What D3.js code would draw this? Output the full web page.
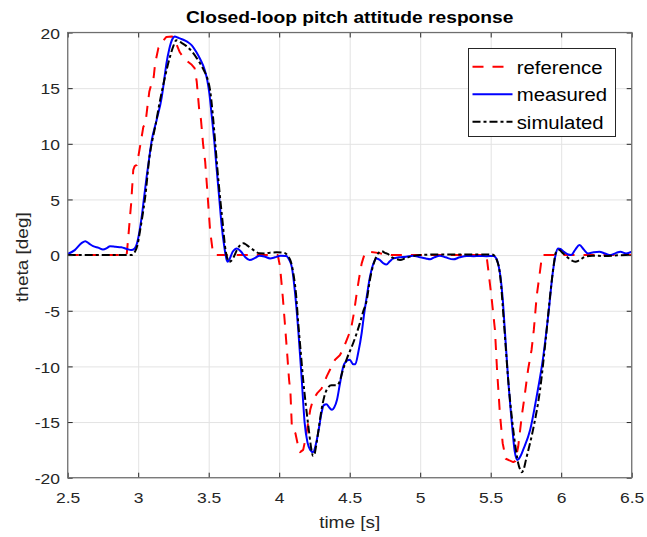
<!DOCTYPE html>
<html>
<head>
<meta charset="utf-8">
<script src="https://cdn.jsdelivr.net/npm/d3@7"></script>
<style>
  html, body { margin: 0; padding: 0; background: #fff; }
  svg { display: block; font-family: "Liberation Sans", Arial, Helvetica, sans-serif; }
</style>
</head>
<body>
<svg id="chart" width="647" height="537"></svg>
<script>
// Axis ticks
const xTicks = [2.5, 3, 3.5, 4, 4.5, 5, 5.5, 6, 6.5];
const yTicks = [-20, -15, -10, -5, 0, 5, 10, 15, 20];

// Legend entries
const seriesNames = ["reference", "measured", "simulated"];

// Commanded pitch attitude [time s, theta deg]
const reference = [
  [2.50, 0], [2.918, 0], [2.93, 1.65], [2.95, 4.65], [2.965, 7.65], [2.975, 8.0], [2.99, 8.1],
  [3.00, 8.8], [3.013, 9.74], [3.036, 11.5], [3.045, 11.7], [3.055, 12.2], [3.065, 13.3],
  [3.079, 14.7], [3.09, 15.2], [3.10, 15.3], [3.11, 16.0], [3.12, 17.2], [3.143, 18.6],
  [3.167, 19.0], [3.18, 19.3], [3.20, 19.6], [3.238, 19.65], [3.255, 19.5], [3.27, 19.0],
  [3.296, 18.2], [3.33, 17.6], [3.38, 17.1], [3.40, 16.8], [3.415, 15.6], [3.433, 13.0],
  [3.445, 12.2], [3.46, 10.0], [3.475, 8.4], [3.486, 6.5], [3.51, 2.2], [3.528, 0.4],
  [3.545, 0], [3.99, 0], [4.006, -1.04], [4.025, -3.7], [4.04, -6.1], [4.058, -9.1],
  [4.07, -11.2], [4.08, -12.4], [4.09, -15.5], [4.10, -15.7], [4.115, -16.0], [4.135, -17.2],
  [4.148, -17.7], [4.17, -17.5], [4.19, -16.3], [4.22, -13.9], [4.24, -13.0], [4.27, -12.4],
  [4.30, -12.0], [4.337, -10.9], [4.36, -10.3], [4.396, -9.4], [4.43, -9.0], [4.455, -8.4],
  [4.48, -7.6], [4.51, -6.6], [4.53, -5.2], [4.55, -3.4], [4.565, -2.2], [4.585, -0.74],
  [4.607, 0.16], [4.64, 0.3], [4.70, 0.2], [4.75, 0.05], [4.80, 0], [5.47, 0],
  [5.48, -1.04], [5.505, -3.7], [5.53, -6.7], [5.545, -10.3], [5.565, -14.2], [5.585, -16.9],
  [5.607, -18.3], [5.66, -18.6], [5.675, -18.5], [5.695, -17.2], [5.72, -14.5], [5.74, -12.7],
  [5.765, -10.3], [5.79, -8.5], [5.806, -6.7], [5.826, -3.7], [5.845, -1.9], [5.86, -0.44],
  [5.865, 0], [6.50, 0]
];

// Flight-test measurement [time s, theta deg]
const measured = [
  [2.50, 0.1], [2.55, 0.45], [2.60, 1.1], [2.625, 1.25], [2.65, 1.05], [2.68, 0.8], [2.72, 0.65],
  [2.75, 0.5], [2.78, 0.65], [2.80, 0.8], [2.84, 0.75], [2.88, 0.7], [2.92, 0.55], [2.95, 0.45],
  [2.975, 0.6], [2.99, 1.0], [3.01, 2.2], [3.025, 3.45], [3.04, 5.0], [3.06, 7.05], [3.08, 8.9],
  [3.096, 10.3], [3.13, 12.1], [3.167, 14.2], [3.185, 15.8], [3.20, 17.2], [3.22, 18.5],
  [3.24, 19.35], [3.26, 19.65], [3.28, 19.55], [3.30, 19.45], [3.32, 19.35], [3.35, 19.15],
  [3.38, 18.85], [3.41, 18.3], [3.44, 17.6], [3.47, 16.7], [3.49, 15.7], [3.505, 14.5],
  [3.52, 12.7], [3.54, 10.2], [3.557, 7.65], [3.575, 5.1], [3.59, 2.9], [3.61, 0.8],
  [3.628, -0.45], [3.635, -0.6], [3.65, -0.3], [3.67, 0.3], [3.70, 0.6], [3.73, 0.3],
  [3.76, -0.2], [3.79, -0.45], [3.83, -0.25], [3.86, -0.05], [3.90, -0.15], [3.935, -0.3],
  [3.97, -0.2], [4.01, -0.05], [4.05, -0.08], [4.07, -0.4], [4.09, -1.1], [4.11, -3.1],
  [4.135, -6.7], [4.16, -11.2], [4.18, -15.0], [4.20, -16.8], [4.22, -17.5], [4.24, -17.7],
  [4.26, -17.0], [4.28, -15.7], [4.30, -14.2], [4.315, -13.5], [4.335, -13.4], [4.355, -13.7],
  [4.375, -13.9], [4.39, -13.7], [4.41, -13.0], [4.43, -11.6], [4.455, -10.0], [4.48, -9.5],
  [4.50, -9.4], [4.525, -9.8], [4.54, -9.8], [4.56, -8.8], [4.585, -7.0], [4.60, -5.5],
  [4.62, -3.8], [4.64, -2.2], [4.667, -0.8], [4.69, -0.3], [4.71, -0.4], [4.74, -0.75],
  [4.76, -0.85], [4.785, -0.55], [4.81, -0.3], [4.85, -0.2], [4.90, -0.15], [4.95, -0.05],
  [5.00, -0.2], [5.04, -0.3], [5.07, -0.38], [5.10, -0.2], [5.14, -0.05], [5.18, -0.2],
  [5.235, -0.38], [5.28, -0.2], [5.33, -0.08], [5.38, -0.1], [5.42, -0.08], [5.47, -0.1],
  [5.52, -0.08], [5.54, -0.3], [5.555, -0.9], [5.57, -2.0], [5.585, -3.9], [5.60, -6.7],
  [5.624, -11.2], [5.65, -15.1], [5.67, -17.6], [5.69, -18.4], [5.71, -18.1], [5.73, -17.5],
  [5.78, -15.7], [5.826, -12.7], [5.873, -9.1], [5.91, -5.2], [5.94, -1.6], [5.96, 0.0],
  [5.977, 0.6], [5.995, 0.55], [6.02, 0.3], [6.05, 0.05], [6.07, 0.0], [6.10, 0.5],
  [6.13, 0.9], [6.16, 0.5], [6.19, 0.15], [6.23, 0.25], [6.27, 0.3], [6.31, 0.15],
  [6.35, 0.0], [6.39, 0.2], [6.42, 0.3], [6.46, 0.15], [6.50, 0.3]
];

// Model simulation [time s, theta deg]
const simulated = [
  [2.50, 0], [2.95, 0], [2.977, 0.3], [2.995, 0.9], [3.01, 1.96], [3.03, 3.5], [3.05, 5.25],
  [3.08, 8.84], [3.10, 10.3], [3.12, 11.5], [3.155, 13.9], [3.19, 16.0], [3.225, 17.8],
  [3.25, 18.8], [3.27, 19.3], [3.29, 19.2], [3.31, 19.05], [3.34, 18.8], [3.38, 18.3],
  [3.415, 17.7], [3.445, 17.1], [3.47, 16.5], [3.49, 15.9], [3.51, 14.8], [3.53, 12.5],
  [3.545, 10.3], [3.56, 8.0], [3.58, 5.25], [3.60, 2.8], [3.616, 0.76], [3.63, -0.2],
  [3.645, -0.6], [3.66, -0.5], [3.68, -0.1], [3.70, 0.46], [3.72, 0.85], [3.745, 1.06],
  [3.77, 0.9], [3.80, 0.61], [3.83, 0.35], [3.86, 0.16], [3.90, 0.15], [3.935, 0.22],
  [3.98, 0.25], [4.03, 0.22], [4.05, 0.1], [4.065, -0.14], [4.08, -0.5], [4.10, -1.6],
  [4.12, -3.6], [4.135, -6.1], [4.15, -8.3], [4.17, -11.2], [4.19, -13.6], [4.21, -15.7],
  [4.225, -17.2], [4.24, -18.05], [4.25, -17.9], [4.265, -16.9], [4.28, -15.6], [4.30, -13.9],
  [4.32, -12.7], [4.337, -12.1], [4.37, -11.7], [4.41, -11.7], [4.43, -11.3], [4.45, -10.4],
  [4.48, -9.3], [4.525, -7.9], [4.55, -7.0], [4.57, -6.2], [4.595, -5.1], [4.62, -4.1],
  [4.645, -2.1], [4.667, -0.9], [4.68, -0.4], [4.705, 0.2], [4.727, 0.35], [4.75, 0.2],
  [4.77, 0.1], [4.80, -0.2], [4.83, -0.35], [4.857, -0.44], [4.90, -0.25], [4.95, -0.08],
  [5.00, 0.0], [5.10, 0.05], [5.20, 0.05], [5.30, 0.05], [5.40, 0.05], [5.507, 0.05],
  [5.53, -0.1], [5.545, -0.5], [5.56, -1.2], [5.57, -2.2], [5.594, -6.1], [5.624, -11.2],
  [5.66, -15.7], [5.68, -17.6], [5.695, -18.7], [5.71, -19.3], [5.72, -19.5], [5.735, -19.2],
  [5.75, -18.4], [5.80, -15.7], [5.85, -12.1], [5.89, -7.6], [5.926, -3.1], [5.95, -0.6],
  [5.96, 0.16], [5.985, 0.46], [6.01, 0.2], [6.04, -0.14], [6.07, -0.45], [6.10, -0.59],
  [6.13, -0.45], [6.17, -0.14], [6.22, -0.05], [6.31, -0.08], [6.40, -0.02], [6.50, 0]
];

const titleText = "Closed-loop pitch attitude response";
const xLabelText = "time [s]";
const yLabelText = "theta [deg]";

// ---------------------------------------------------------------
const svg = d3.select("#chart");
const W = 647, H = 537;
const plot = { left: 67.7, right: 631.7, top: 32.5, bottom: 477.7 };
const SX = 1.13;                       // horizontal widening of all lettering
const axisColor = "#262626";
const plainNumber = d => String(d);    // keeps an ASCII hyphen for negatives

svg.append("rect").attr("width", W).attr("height", H).attr("fill", "#fff");

const x = d3.scaleLinear().domain([2.5, 6.5]).range([plot.left, plot.right]);
const y = d3.scaleLinear().domain([-20, 20]).range([plot.bottom, plot.top]);

// grid
const grid = svg.append("g").attr("class", "grid");
grid.append("g")
  .attr("transform", `translate(0,${plot.bottom})`)
  .call(d3.axisBottom(x).tickValues(xTicks).tickSize(-(plot.bottom - plot.top)).tickFormat(""))
  .call(g => g.select(".domain").remove());
grid.append("g")
  .attr("transform", `translate(${plot.left},0)`)
  .call(d3.axisLeft(y).tickValues(yTicks).tickSize(-(plot.right - plot.left)).tickFormat(""))
  .call(g => g.select(".domain").remove());
grid.selectAll("line").attr("stroke", "#e3e3e3").attr("stroke-width", 1);

// data lines
svg.append("clipPath").attr("id", "plotClip")
  .append("rect")
  .attr("x", plot.left).attr("y", plot.top)
  .attr("width", plot.right - plot.left).attr("height", plot.bottom - plot.top);

const smoothLine = d3.line().x(d => x(d[0])).y(d => y(d[1])).curve(d3.curveMonotoneX);
const stepLine = d3.line().x(d => x(d[0])).y(d => y(d[1]));

const styles = {
  reference: { color: "#ff0000", dash: "11,9" },
  measured:  { color: "#0000ff", dash: null },
  simulated: { color: "#000000", dash: "8,3,3,3" }
};

const lines = svg.append("g").attr("clip-path", "url(#plotClip)")
  .attr("fill", "none").attr("stroke-width", 2).attr("stroke-linejoin", "round");

lines.append("path").attr("d", stepLine(reference))
  .attr("stroke", styles.reference.color).attr("stroke-dasharray", styles.reference.dash);
lines.append("path").attr("d", smoothLine(measured))
  .attr("stroke", styles.measured.color);
lines.append("path").attr("d", smoothLine(simulated))
  .attr("stroke", styles.simulated.color).attr("stroke-dasharray", styles.simulated.dash);

// axes box with inward ticks on all four sides
function styleAxis(g) {
  g.select(".domain").remove();
  g.selectAll("line").attr("stroke", axisColor).attr("stroke-width", 1);
}
const xAxisB = svg.append("g").attr("transform", `translate(0,${plot.bottom})`)
  .call(d3.axisBottom(x).tickValues(xTicks).tickSize(-5).tickPadding(0).tickFormat(plainNumber));
styleAxis(xAxisB);
xAxisB.selectAll("text")
  .attr("y", 0).attr("dy", 0)
  .attr("transform", `translate(0,25.3) scale(${SX},1)`)
  .attr("fill", axisColor).attr("font-size", "15.5px");

const yAxisL = svg.append("g").attr("transform", `translate(${plot.left},0)`)
  .call(d3.axisLeft(y).tickValues(yTicks).tickSize(-5).tickPadding(0).tickFormat(plainNumber));
styleAxis(yAxisL);
yAxisL.selectAll("text")
  .attr("x", 0).attr("dy", 0)
  .attr("transform", `translate(-7.7,5.6) scale(${SX},1)`)
  .attr("fill", axisColor).attr("font-size", "15.5px");

const xAxisT = svg.append("g").attr("transform", `translate(0,${plot.top})`)
  .call(d3.axisTop(x).tickValues(xTicks).tickSize(-5).tickFormat(""));
styleAxis(xAxisT);
const yAxisR = svg.append("g").attr("transform", `translate(${plot.right},0)`)
  .call(d3.axisRight(y).tickValues(yTicks).tickSize(-5).tickFormat(""));
styleAxis(yAxisR);

svg.append("rect")
  .attr("x", plot.left).attr("y", plot.top)
  .attr("width", plot.right - plot.left).attr("height", plot.bottom - plot.top)
  .attr("fill", "none").attr("stroke", "#6e6e6e").attr("stroke-width", 1.2);

// title and axis labels
svg.append("text")
  .attr("transform", `translate(${(plot.left + plot.right) / 2},23) scale(${SX},1)`)
  .attr("text-anchor", "middle").attr("font-weight", "bold").attr("font-size", "17px")
  .attr("fill", "#000").text(titleText);

svg.append("text")
  .attr("transform", `translate(${(plot.left + plot.right) / 2},528.3) scale(${SX},1)`)
  .attr("text-anchor", "middle").attr("font-size", "16.8px")
  .attr("fill", axisColor).text(xLabelText);

svg.append("text")
  .attr("transform", `translate(28.3,${(plot.top + plot.bottom) / 2 + 2}) rotate(-90) scale(${SX},1)`)
  .attr("text-anchor", "middle").attr("font-size", "16.8px")
  .attr("fill", axisColor).text(yLabelText);

// legend
const legend = svg.append("g").attr("transform", "translate(468.5,48.5)");
legend.append("rect").attr("width", 147).attr("height", 88)
  .attr("fill", "#fff").attr("stroke", axisColor).attr("stroke-width", 1);
seriesNames.forEach((name, i) => {
  const yy = 18.2 + i * 27.5;
  const st = styles[name];
  legend.append("line")
    .attr("x1", 4).attr("x2", 44).attr("y1", yy).attr("y2", yy)
    .attr("stroke", st.color).attr("stroke-width", 2)
    .attr("stroke-dasharray", st.dash);
  legend.append("text")
    .attr("transform", `translate(48.2,${yy + 6.8}) scale(${SX},1)`)
    .attr("font-size", "18px").attr("fill", "#000").text(name);
});
</script>
</body>
</html>
